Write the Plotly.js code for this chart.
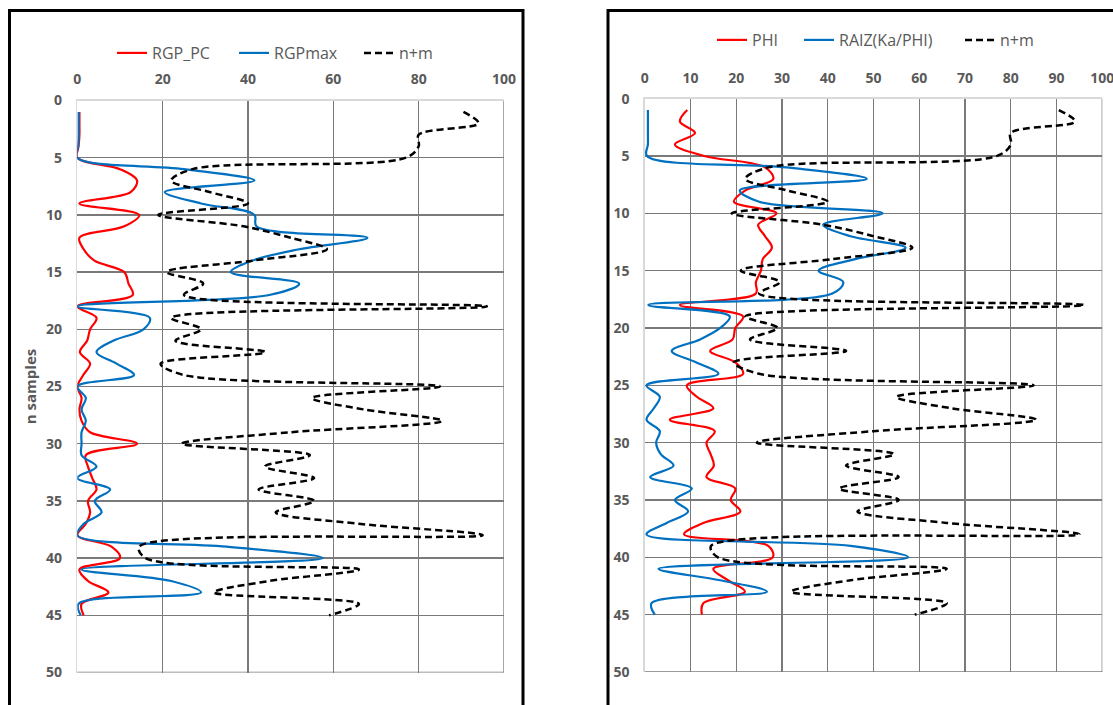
<!DOCTYPE html>
<html><head><meta charset="utf-8">
<script src="https://cdn.plot.ly/plotly-3.0.1.min.js"></script>
<style>html,body{margin:0;padding:0;background:#fff;overflow:hidden}#chart{width:1113px;height:705px}</style>
</head><body><div id="chart"></div>
<script>
// ---- data ----
const samples = [1,2,3,4,5,6,7,8,9,10,11,12,13,14,15,16,17,18,19,20,21,22,23,24,25,26,27,28,29,30,31,32,33,34,35,36,37,38,39,40,41,42,43,44,45];
const nPlusM = [90.5,94,80,80,77, 27,22,31,40,19, 39,50,58.5,41,21, 29.5,25,96,22,29, 23,44,19.5,25,85, 55,67,85.5,50,24.5, 54.5,44,55.5,42.5,55.5, 46.5,66,95,14.5,16, 66,45,32,66,59];
const rgpPC = [0.5,0.5,0.5,0.3,0, 10,14,12.5,0.5,14.5, 11,0.5,1.5,4,11, 12,13,0,4.5,3, 2.3,0.6,3,1.4,0, 1,0.5,1,3,14, 2,2.5,3.5,4.5,2.5, 3,2,0,8,10, 0.5,2.5,7.3,1,1.5];
const rgpMax = [0.3,0.3,0.3,0.2,0, 25,41.5,20.5,29,41.5, 42,68,52,41,36, 52,45,0,17,15.5, 8.4,4.5,9.2,13.3,0, 2,1,2,1,1, 1,4.5,0,7.7,4.1, 5.7,1.5,0,35,57.5, 1,22,29,0.3,0.8];
const phi = [9.3,7.7,11,6.6,13, 26.3,28.1,22,19.5,28.8, 24.8,26.3,27.8,25.8,25.4, 24.3,24.3,7.7,21.5,19.8, 19.2,14.3,19.8,21.5,9.2, 11.4,15,5.5,15.3,13.5, 14.4,15.1,13.5,19.8,18.8, 20.9,12.8,8.6,27,28, 15,18.2,21.9,12.8,12.5];
const raiz = [0.7,0.7,0.7,0.7,0.5, 31,48.5,20.8,25,52, 39,45,57,46,38, 43.4,41,0.8,18.6,16.5, 12.1,5.9,11.2,16.1,0.4, 3.3,2,0.4,3.3,2.5, 3.5,6.3,1.2,10.3,6.6, 9.5,4.8,0.4,45,57.6, 3,16.5,26.7,1.5,2.2];
const names = ['RGP_PC','RGPmax','n+m','PHI','RAIZ(Ka/PHI)','n+m'];
const xMax = 100, yMax = 50;

// ---- layout helpers ----
const W = 1113, H = 705;
const fx = p => p / W, fy = p => 1 - p / H;
const RED = '#ff0000', BLUE = '#0070c0', BLACK = '#000000';
const GRID = '#7a7a7a', AXL = '#d9d9d9', TXT = '#595959';
const FAM = '"Open Sans", Lato, sans-serif';
const tickFont = {family: FAM, size: 14, color: TXT, weight: 'bold'};
const legFont = {family: FAM, size: 16, color: TXT};

function line(x, name, color, xa, ya, leg, dashed) {
  return {type: 'scatter', mode: 'lines', x: x, y: samples, name: name, xaxis: xa, yaxis: ya, legend: leg,
    showlegend: true,
    line: {color: color, width: dashed ? 2.5 : 2.2, shape: 'spline', smoothing: 1, dash: dashed ? '7px,4px' : 'solid'},
    hoverinfo: 'skip'};
}
const data = [
  line(rgpPC, names[0], RED, 'x', 'y', 'legend', false),
  line(rgpMax, names[1], BLUE, 'x', 'y', 'legend2', false),
  line(nPlusM, names[2], BLACK, 'x', 'y', 'legend3', true),
  line(phi, names[3], RED, 'x2', 'y2', 'legend4', false),
  line(raiz, names[4], BLUE, 'x2', 'y2', 'legend5', false),
  line(nPlusM, names[5], BLACK, 'x2', 'y2', 'legend6', true)
];

function xax(domain, dtick, anchor) {
  return {domain: domain, range: [0, xMax], side: 'top', dtick: dtick, tick0: 0, anchor: anchor,
    showgrid: true, gridcolor: GRID, gridwidth: 1.3, showline: true, linecolor: AXL, linewidth: 1.5,
    zeroline: false, ticks: '', tickfont: tickFont, ticklabelstandoff: 9, ticklabeloverflow: 'allow', fixedrange: true};
}
function yax(domain, anchor, title) {
  const a = {domain: domain, range: [yMax, 0], dtick: 5, tick0: 0, anchor: anchor,
    showgrid: true, gridcolor: GRID, gridwidth: 1.3, showline: true, linecolor: AXL, linewidth: 1.5,
    zeroline: false, ticks: '', tickfont: tickFont, ticklabelstandoff: 11, ticklabeloverflow: 'allow', fixedrange: true};
  if (title) a.title = {text: title, font: {family: FAM, size: 15, color: TXT, weight: 'bold'}, standoff: 5};
  return a;
}
function leg(xpx, ypx) {
  return {x: fx(xpx), y: fy(ypx), xanchor: 'left', yanchor: 'middle', orientation: 'h',
    bgcolor: 'rgba(0,0,0,0)', borderwidth: 0, font: legFont, itemwidth: 30, visible: true};
}
// grid lines at the far ends of each axis (Plotly omits those at range edges)
function edge(xa, ya) {
  return [
    {type: 'line', xref: xa, yref: ya + ' domain', x0: xMax, x1: xMax, y0: 0, y1: 1, line: {color: GRID, width: 1.3}, layer: 'below'},
    {type: 'line', xref: xa + ' domain', yref: ya, x0: 0, x1: 1, y0: yMax, y1: yMax, line: {color: GRID, width: 1.3}, layer: 'below'}
  ];
}

const layout = {
  width: W, height: H, margin: {l: 0, r: 0, t: 0, b: 0}, showlegend: true,
  paper_bgcolor: '#ffffff', plot_bgcolor: '#ffffff',
  xaxis: xax([fx(77.3), fx(504)], 20, 'y'),
  yaxis: yax([fy(672.5), fy(100.5)], 'x', 'n samples'),
  xaxis2: xax([fx(644.7), fx(1102.3)], 10, 'y2'),
  yaxis2: yax([fy(672), fy(98.6)], 'x2', null),
  legend: leg(112, 53), legend2: leg(234, 53), legend3: leg(359, 53),
  legend4: leg(712, 40), legend5: leg(799, 40), legend6: leg(960, 40),
  shapes: [
    {type: 'rect', xref: 'paper', yref: 'paper', x0: fx(9.5), x1: fx(523), y0: -0.1, y1: fy(10.5), line: {color: '#000', width: 3}},
    {type: 'rect', xref: 'paper', yref: 'paper', x0: fx(608), x1: 1.1, y0: -0.1, y1: fy(10.5), line: {color: '#000', width: 3}}
  ].concat(edge('x', 'y'), edge('x2', 'y2'))
};
Plotly.newPlot('chart', data, layout, {displayModeBar: false, staticPlot: true});
</script></body></html>
